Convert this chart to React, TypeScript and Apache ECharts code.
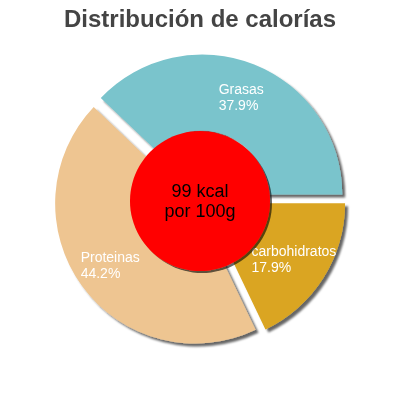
import * as echarts from "echarts";
import { useEffect, useRef } from "react";

const titleText = "Distribución de calorías";
const centerText = "99 kcal\npor 100g";

const names = ["Grasas", "Proteinas", "carbohidratos"];
const values = [37.9, 44.2, 17.9];
const colors = ["#7AC4CC", "#EEC591", "#DAA520"];

const App: React.FC = () => {
    const node = useRef<HTMLDivElement>(null);

    useEffect(() => {
        const chart = echarts.init(node.current, null, { renderer: "svg" });
        const font = "'Liberation Sans', Arial, sans-serif";

        const option: echarts.EChartsOption = {
            animation: false,
            title: {
                text: titleText,
                left: "center",
                top: 1,
                textStyle: {
                    fontFamily: font,
                    fontSize: 24,
                    fontWeight: "bold",
                    color: "#444444",
                },
            },
            series: [
                {
                    type: "pie",
                    z: 2,
                    center: ["50%", "50%"],
                    radius: [64, 140],
                    startAngle: 0,
                    clockwise: false,
                    selectedMode: "multiple",
                    selectedOffset: 6,
                    silent: true,
                    itemStyle: {
                        shadowColor: "rgba(0,0,0,0.6)",
                        shadowBlur: 2,
                        shadowOffsetX: 3,
                        shadowOffsetY: 3,
                    },
                    label: {
                        show: true,
                        position: "inner",
                        formatter: "{a|{b}}\n{a|{d}%}",
                        rich: {
                            a: {
                                align: "left",
                                fontFamily: font,
                                fontSize: 14,
                                lineHeight: 16,
                                color: "#ffffff",
                            },
                        },
                    },
                    labelLine: { show: false },
                    data: names.map((name, i) => ({
                        name,
                        value: values[i],
                        selected: true,
                        itemStyle: { color: colors[i] },
                    })),
                },
                {
                    type: "pie",
                    z: 5,
                    center: ["50%", 201],
                    radius: [0, 70],
                    silent: true,
                    itemStyle: {
                        color: "#FF0000",
                        shadowColor: "rgba(0,0,0,0.6)",
                        shadowBlur: 1,
                        shadowOffsetX: 2,
                        shadowOffsetY: 2,
                    },
                    label: {
                        show: true,
                        position: "center",
                        formatter: "{b}",
                        fontFamily: font,
                        fontSize: 18,
                        lineHeight: 20,
                        color: "#000000",
                    },
                    labelLine: { show: false },
                    data: [{ name: centerText, value: 1 }],
                },
            ],
        };

        chart.setOption(option);
        return () => {
            chart.dispose();
        };
    }, []);

    return (
        <div
            ref={node}
            style={{ position: "fixed", left: 0, top: 0, width: 400, height: 400 }}
        ></div>
    );
};

export default App;
